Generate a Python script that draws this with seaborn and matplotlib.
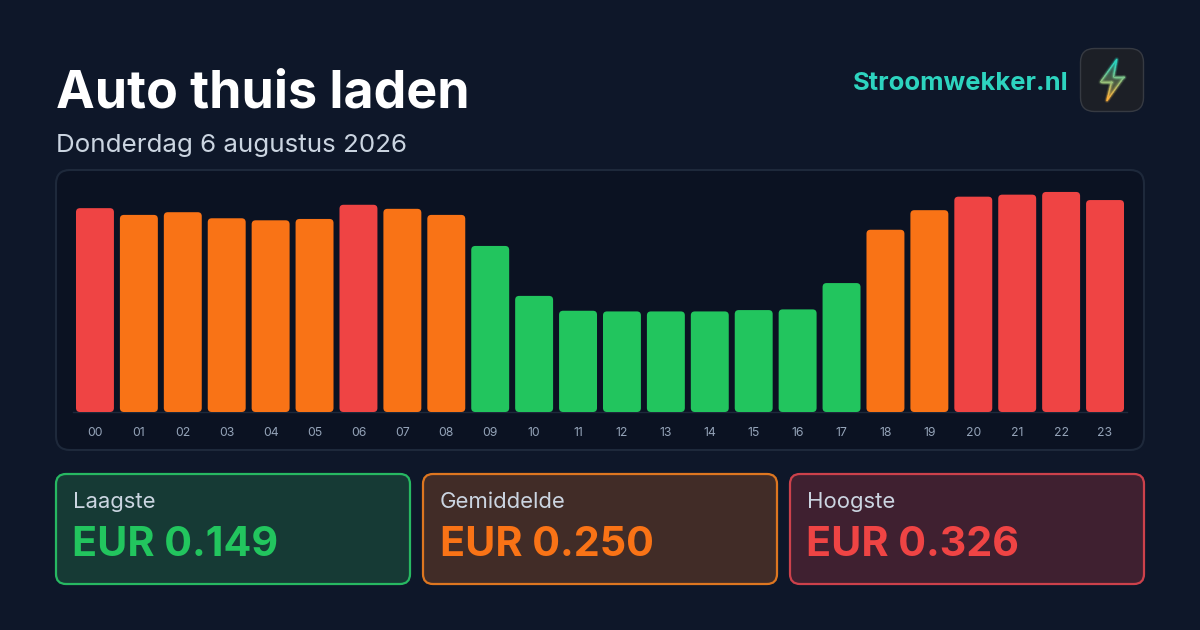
import matplotlib
matplotlib.use('Agg')
import matplotlib.pyplot as plt
import seaborn as sns
import numpy as np
import pandas as pd
from matplotlib.collections import LineCollection
from matplotlib.patches import FancyBboxPatch, Polygon

sns.set_theme(style='dark')
plt.rcParams['font.family'] = ['Inter', 'DejaVu Sans']

# prices (EUR/kWh)
hours = ['00', '01', '02', '03', '04', '05', '06', '07', '08', '09', '10', '11',
         '12', '13', '14', '15', '16', '17', '18', '19', '20', '21', '22', '23']
prices = [0.302, 0.292, 0.296, 0.287, 0.284, 0.286, 0.307, 0.301, 0.292, 0.246, 0.172, 0.150,
          0.149, 0.149, 0.149, 0.151, 0.152, 0.191, 0.270, 0.299, 0.319, 0.322, 0.326, 0.314]
levels = ['hoog', 'midden', 'midden', 'midden', 'midden', 'midden', 'hoog', 'midden', 'midden',
          'laag', 'laag', 'laag', 'laag', 'laag', 'laag', 'laag', 'laag', 'laag',
          'midden', 'midden', 'hoog', 'hoog', 'hoog', 'hoog']
card_labels = ['Laagste', 'Gemiddelde', 'Hoogste']
card_values = ['EUR 0.149', 'EUR 0.250', 'EUR 0.326']

GREEN = '#22c55e'
ORANGE = '#f97316'
RED = '#ef4444'
palette = {'laag': GREEN, 'midden': ORANGE, 'hoog': RED}

fig = plt.figure(figsize=(12, 6.3), dpi=100, facecolor='#0e1729')

# overlay in pixel coordinates for the panels and text
bg = fig.add_axes([0, 0, 1, 1], zorder=0)
bg.patch.set_alpha(0)
bg.axis('off')


def rbox(x0, y0, x1, y1, r, face, edge, lw):
    p = FancyBboxPatch((x0, y0), x1 - x0, y1 - y0, boxstyle=f'round,pad=0,rounding_size={r}',
                       facecolor=face, edgecolor=edge, linewidth=lw)
    bg.add_patch(p)
    return p


# title block
bg.text(56, 108, 'Auto thuis laden', color='white', fontsize=37.4, fontweight='bold', va='baseline')
bg.text(56, 152, 'Donderdag 6 augustus 2026', color='#cbd5e1', fontsize=18.7, va='baseline')
bg.text(1068, 90, 'Stroomwekker.nl', color='#2dd4bf', fontsize=18.45, fontweight='bold', va='baseline', ha='right')

# app icon
rbox(1080.5, 48.5, 1143.5, 111.5, 14, '#1c1f26', '#363a42', 1)
bolt = np.array([(1116.7, 59.5), (1100.5, 82), (1111.5, 82), (1107, 100.5),
                 (1124, 77), (1113.5, 77), (1116.7, 59.5)])
top, bottom = np.array([45, 212, 191]) / 255, np.array([251, 176, 60]) / 255


def bolt_colour(y):
    t = np.clip((y - 64) / 34, 0, 1)
    return top + (bottom - top) * t


# fill: gradient clipped to the bolt shape
ramp = np.linspace(0, 1, 64)[:, None]
rgb = np.dstack([top[i] + (bottom[i] - top[i]) * ramp for i in range(3)])
fill = bg.imshow(rgb, extent=[1095, 1130, 102, 58], aspect='auto', zorder=4, alpha=0.38)
clip = Polygon(bolt, closed=True, transform=bg.transData, facecolor='none', edgecolor='none')
bg.add_patch(clip)
fill.set_clip_path(clip)

# outline and glow, coloured along the height
segs, seg_cols = [], []
for a, b in zip(bolt[:-1], bolt[1:]):
    pts = np.linspace(a, b, 12)
    for p, q in zip(pts[:-1], pts[1:]):
        segs.append([p, q])
        seg_cols.append(bolt_colour((p[1] + q[1]) / 2))
for lw, alpha in [(3.6, 0.08), (2.2, 0.18), (0.9, 1.0)]:
    bg.add_collection(LineCollection(segs, colors=seg_cols, linewidths=lw, alpha=alpha,
                                     capstyle='round', zorder=5))

# chart panel
rbox(56, 170, 1144, 450, 14, '#0b1222', '#1e293b', 1.5)

# summary cards
card_x = [(56, 410), (423, 777), (790, 1144)]
card_face = ['#163a35', '#412c27', '#3f2030']
card_edge = ['#27b862', '#dd7620', '#cc414b']
card_col = [GREEN, ORANGE, RED]
for (x0, x1), lab, val, fc, ec, col in zip(card_x, card_labels, card_values, card_face, card_edge, card_col):
    rbox(x0, 474, x1, 584, 10, fc, ec, 1.6)
    bg.text(x0 + 17, 508, lab, color='#cbd5e1', fontsize=15.9, va='baseline')
    bg.text(x0 + 16.5, 556, val, color=col, fontsize=29.7, fontweight='bold', va='baseline')

bg.set_xlim(0, 1200)
bg.set_ylim(630, 0)

# bar chart
px_per_eur = 675
ax_top, ax_bottom, ax_left, ax_right = 180, 412, 73, 1127
ax = fig.add_axes([ax_left / 1200, 1 - ax_bottom / 630, (ax_right - ax_left) / 1200, (ax_bottom - ax_top) / 630], zorder=1)
ax.patch.set_alpha(0)
df = pd.DataFrame({'hour': hours, 'price': prices, 'level': levels})
sns.barplot(data=df, x='hour', y='price', hue='level', palette=palette, order=hours,
            dodge=False, width=0.864, legend=False, ax=ax, saturation=1)
ax.set_xlim(-0.5, 23.5)
ax.set_ylim(0, (ax_bottom - ax_top) / px_per_eur)
ax.set_xlabel('')
ax.set_ylabel('')
ax.set_yticks([])
ax.tick_params(axis='x', length=0, pad=11, labelsize=8.8, labelcolor='#94a3b8')
ax.grid(False)
sns.despine(ax=ax, left=True, top=True, right=True, bottom=False)
ax.spines['bottom'].set_color('#1e293b')
ax.spines['bottom'].set_linewidth(1)

# round the corners of the bars
x_per_px = 24 / (ax_right - ax_left)
y_per_px = 1 / px_per_eur
for bar in list(ax.patches):
    x, y, w, h = bar.get_x(), bar.get_y(), bar.get_width(), bar.get_height()
    col = bar.get_facecolor()
    ax.add_patch(FancyBboxPatch((x, y), w, h, boxstyle=f'round,pad=0,rounding_size={4 * x_per_px}',
                                mutation_aspect=y_per_px / x_per_px, facecolor=col, edgecolor='none', zorder=3))
    bar.set_visible(False)

fig.savefig('out.png', dpi=100, facecolor=fig.get_facecolor())
